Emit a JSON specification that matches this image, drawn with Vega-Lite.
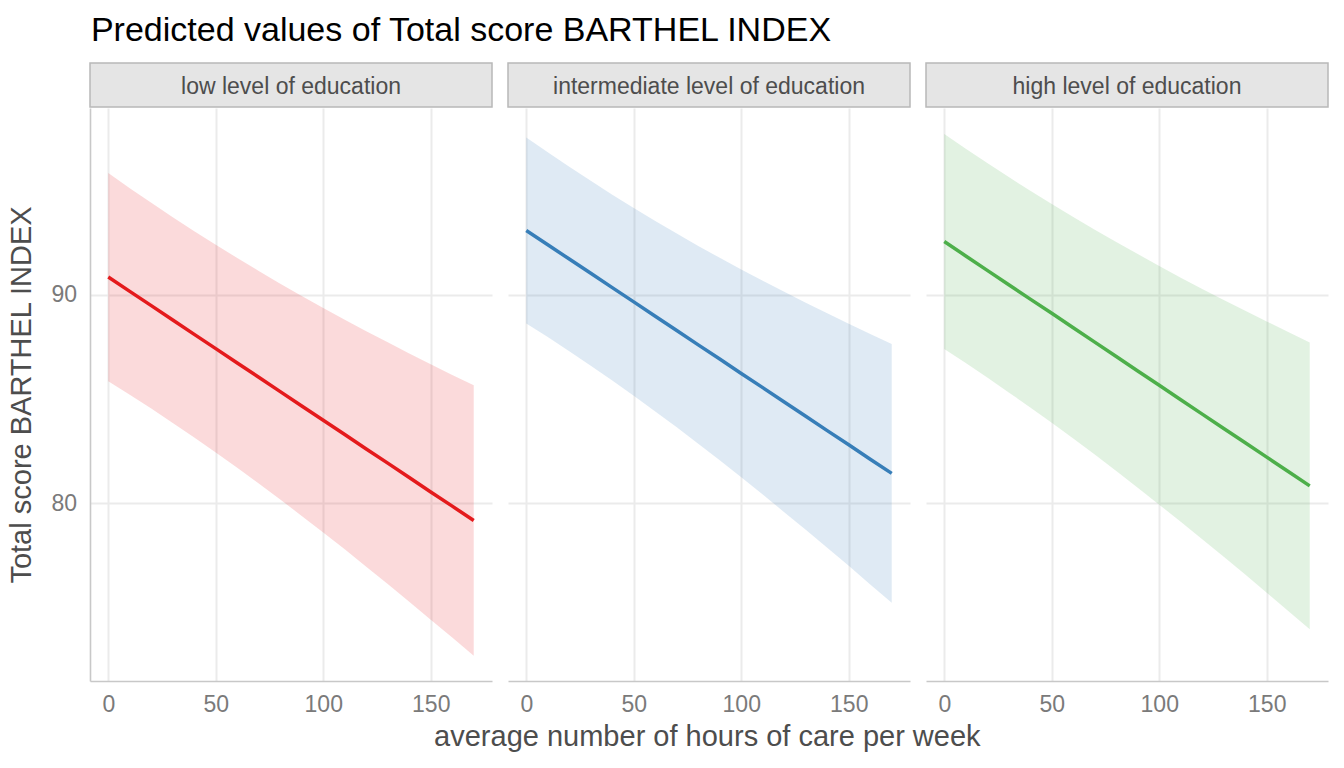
{
  "$schema": "https://vega.github.io/schema/vega-lite/v6.json",
  "background": "white",
  "padding": {"left": 7, "top": 14, "right": 10, "bottom": 10},
  "title": {"text": "Predicted values of Total score BARTHEL INDEX", "anchor": "start", "fontSize": 34, "fontWeight": "normal", "color": "black", "dx": 83, "offset": 14},
  "config": {
    "font": "Liberation Sans",
    "view": {"stroke": null},
    "axis": {
      "gridColor": "#ebebeb", "domainColor": "#c8c8c8", "domainWidth": 1.6,
      "labelColor": "#7a7a7a", "labelFontSize": 23, "titleFontSize": 29,
      "titleColor": "#4d4d4d", "titleFontWeight": "normal", "ticks": false
    }
  },
  "datasets": {
    "pred": [
      {"education": "low level of education", "hours": 0, "predicted": 90.85, "conf_low": 85.86, "conf_high": 95.84},
      {"education": "low level of education", "hours": 10, "predicted": 90.16, "conf_low": 85.21, "conf_high": 95.11},
      {"education": "low level of education", "hours": 20, "predicted": 89.48, "conf_low": 84.55, "conf_high": 94.41},
      {"education": "low level of education", "hours": 30, "predicted": 88.79, "conf_low": 83.86, "conf_high": 93.72},
      {"education": "low level of education", "hours": 40, "predicted": 88.10, "conf_low": 83.16, "conf_high": 93.04},
      {"education": "low level of education", "hours": 50, "predicted": 87.42, "conf_low": 82.44, "conf_high": 92.40},
      {"education": "low level of education", "hours": 60, "predicted": 86.73, "conf_low": 81.71, "conf_high": 91.76},
      {"education": "low level of education", "hours": 70, "predicted": 86.05, "conf_low": 80.96, "conf_high": 91.14},
      {"education": "low level of education", "hours": 80, "predicted": 85.36, "conf_low": 80.19, "conf_high": 90.53},
      {"education": "low level of education", "hours": 90, "predicted": 84.67, "conf_low": 79.40, "conf_high": 89.94},
      {"education": "low level of education", "hours": 100, "predicted": 83.99, "conf_low": 78.61, "conf_high": 89.37},
      {"education": "low level of education", "hours": 110, "predicted": 83.30, "conf_low": 77.80, "conf_high": 88.80},
      {"education": "low level of education", "hours": 120, "predicted": 82.61, "conf_low": 76.97, "conf_high": 88.25},
      {"education": "low level of education", "hours": 130, "predicted": 81.93, "conf_low": 76.14, "conf_high": 87.72},
      {"education": "low level of education", "hours": 140, "predicted": 81.24, "conf_low": 75.29, "conf_high": 87.19},
      {"education": "low level of education", "hours": 150, "predicted": 80.55, "conf_low": 74.43, "conf_high": 86.67},
      {"education": "low level of education", "hours": 160, "predicted": 79.87, "conf_low": 73.58, "conf_high": 86.16},
      {"education": "low level of education", "hours": 170, "predicted": 79.18, "conf_low": 72.70, "conf_high": 85.66},
      {"education": "intermediate level of education", "hours": 0, "predicted": 93.08, "conf_low": 88.62, "conf_high": 97.54},
      {"education": "intermediate level of education", "hours": 10, "predicted": 92.40, "conf_low": 87.97, "conf_high": 96.83},
      {"education": "intermediate level of education", "hours": 20, "predicted": 91.71, "conf_low": 87.29, "conf_high": 96.13},
      {"education": "intermediate level of education", "hours": 30, "predicted": 91.03, "conf_low": 86.60, "conf_high": 95.46},
      {"education": "intermediate level of education", "hours": 40, "predicted": 90.34, "conf_low": 85.89, "conf_high": 94.79},
      {"education": "intermediate level of education", "hours": 50, "predicted": 89.66, "conf_low": 85.16, "conf_high": 94.16},
      {"education": "intermediate level of education", "hours": 60, "predicted": 88.97, "conf_low": 84.41, "conf_high": 93.53},
      {"education": "intermediate level of education", "hours": 70, "predicted": 88.29, "conf_low": 83.65, "conf_high": 92.93},
      {"education": "intermediate level of education", "hours": 80, "predicted": 87.60, "conf_low": 82.86, "conf_high": 92.34},
      {"education": "intermediate level of education", "hours": 90, "predicted": 86.92, "conf_low": 82.07, "conf_high": 91.77},
      {"education": "intermediate level of education", "hours": 100, "predicted": 86.23, "conf_low": 81.25, "conf_high": 91.21},
      {"education": "intermediate level of education", "hours": 110, "predicted": 85.55, "conf_low": 80.43, "conf_high": 90.67},
      {"education": "intermediate level of education", "hours": 120, "predicted": 84.86, "conf_low": 79.58, "conf_high": 90.14},
      {"education": "intermediate level of education", "hours": 130, "predicted": 84.18, "conf_low": 78.74, "conf_high": 89.62},
      {"education": "intermediate level of education", "hours": 140, "predicted": 83.49, "conf_low": 77.87, "conf_high": 89.11},
      {"education": "intermediate level of education", "hours": 150, "predicted": 82.81, "conf_low": 77.01, "conf_high": 88.61},
      {"education": "intermediate level of education", "hours": 160, "predicted": 82.12, "conf_low": 76.12, "conf_high": 88.12},
      {"education": "intermediate level of education", "hours": 170, "predicted": 81.44, "conf_low": 75.24, "conf_high": 87.64},
      {"education": "high level of education", "hours": 0, "predicted": 92.55, "conf_low": 87.40, "conf_high": 97.70},
      {"education": "high level of education", "hours": 10, "predicted": 91.86, "conf_low": 86.73, "conf_high": 97.00},
      {"education": "high level of education", "hours": 20, "predicted": 91.17, "conf_low": 86.03, "conf_high": 96.31},
      {"education": "high level of education", "hours": 30, "predicted": 90.48, "conf_low": 85.32, "conf_high": 95.64},
      {"education": "high level of education", "hours": 40, "predicted": 89.79, "conf_low": 84.60, "conf_high": 94.98},
      {"education": "high level of education", "hours": 50, "predicted": 89.11, "conf_low": 83.87, "conf_high": 94.35},
      {"education": "high level of education", "hours": 60, "predicted": 88.42, "conf_low": 83.11, "conf_high": 93.73},
      {"education": "high level of education", "hours": 70, "predicted": 87.73, "conf_low": 82.34, "conf_high": 93.12},
      {"education": "high level of education", "hours": 80, "predicted": 87.04, "conf_low": 81.55, "conf_high": 92.53},
      {"education": "high level of education", "hours": 90, "predicted": 86.35, "conf_low": 80.75, "conf_high": 91.95},
      {"education": "high level of education", "hours": 100, "predicted": 85.66, "conf_low": 79.94, "conf_high": 91.38},
      {"education": "high level of education", "hours": 110, "predicted": 84.97, "conf_low": 79.12, "conf_high": 90.82},
      {"education": "high level of education", "hours": 120, "predicted": 84.28, "conf_low": 78.28, "conf_high": 90.28},
      {"education": "high level of education", "hours": 130, "predicted": 83.59, "conf_low": 77.44, "conf_high": 89.75},
      {"education": "high level of education", "hours": 140, "predicted": 82.91, "conf_low": 76.59, "conf_high": 89.23},
      {"education": "high level of education", "hours": 150, "predicted": 82.22, "conf_low": 75.72, "conf_high": 88.72},
      {"education": "high level of education", "hours": 160, "predicted": 81.53, "conf_low": 74.85, "conf_high": 88.21},
      {"education": "high level of education", "hours": 170, "predicted": 80.84, "conf_low": 73.97, "conf_high": 87.71}
    ]
  },
  "vconcat": [
    {
      "title": {"text": "average number of hours of care per week", "orient": "bottom", "anchor": "middle", "fontSize": 29, "fontWeight": "normal", "color": "#4d4d4d", "offset": 7, "dx": 39},
      "spacing": 14,
      "hconcat": [
        {
          "spacing": 0,
          "vconcat": [
            {
              "width": 402, "height": 44,
              "view": {"fill": "#e5e5e5", "stroke": "#b8b8b8", "strokeWidth": 1.5},
              "data": {"values": [{"panel": "low level of education"}]},
              "mark": {"type": "text", "fontSize": 23, "color": "#4d4d4d", "dy": 2},
              "encoding": {"text": {"field": "panel"}}
            },
            {
              "width": 402, "height": 573,
              "data": {"name": "pred"},
              "transform": [{"filter": "datum.education === 'low level of education'"}],
              "layer": [
                {
                  "mark": {"type": "area", "opacity": 0.16},
                  "encoding": {
                    "x": {"field": "hours", "type": "quantitative", "scale": {"domain": [-8.5, 178.5], "nice": false, "zero": false},
                          "axis": {"values": [0, 50, 100, 150], "gridWidth": 2, "labelPadding": 12, "title": null}},
                    "y": {"field": "conf_low", "type": "quantitative", "scale": {"domain": [71.49, 98.95], "nice": false, "zero": false},
                          "axis": {"values": [80, 90], "gridWidth": 2, "labelPadding": 13.5, "titlePadding": 14, "title": "Total score BARTHEL INDEX"}},
                    "y2": {"field": "conf_high"},
                    "color": {"field": "education", "type": "nominal", "legend": null,
                              "scale": {"domain": ["low level of education", "intermediate level of education", "high level of education"], "range": ["#e41a1c", "#377eb8", "#4daf4a"]}}
                  }
                },
                {
                  "mark": {"type": "line", "strokeWidth": 3.5},
                  "encoding": {
                    "x": {"field": "hours", "type": "quantitative",
                          "axis": {"orient": "top", "values": [25, 75, 125, 175], "gridWidth": 1.1, "labels": false, "domain": false, "title": null}},
                    "y": {"field": "predicted", "type": "quantitative",
                          "axis": {"orient": "right", "values": [75, 85, 95], "gridWidth": 1.1, "labels": false, "domain": false, "title": null}},
                    "color": {"field": "education", "type": "nominal", "legend": null}
                  }
                }
              ],
              "resolve": {"axis": {"x": "independent", "y": "independent"}}
            }
          ]
        },
        {
          "spacing": 0,
          "vconcat": [
            {
              "width": 402, "height": 44,
              "view": {"fill": "#e5e5e5", "stroke": "#b8b8b8", "strokeWidth": 1.5},
              "data": {"values": [{"panel": "intermediate level of education"}]},
              "mark": {"type": "text", "fontSize": 23, "color": "#4d4d4d", "dy": 2},
              "encoding": {"text": {"field": "panel"}}
            },
            {
              "width": 402, "height": 573,
              "data": {"name": "pred"},
              "transform": [{"filter": "datum.education === 'intermediate level of education'"}],
              "layer": [
                {
                  "mark": {"type": "area", "opacity": 0.16},
                  "encoding": {
                    "x": {"field": "hours", "type": "quantitative", "scale": {"domain": [-8.5, 178.5], "nice": false, "zero": false},
                          "axis": {"values": [0, 50, 100, 150], "gridWidth": 2, "labelPadding": 12, "title": null}},
                    "y": {"field": "conf_low", "type": "quantitative", "scale": {"domain": [71.49, 98.95], "nice": false, "zero": false},
                          "axis": {"values": [80, 90], "gridWidth": 2, "labels": false, "domain": false, "title": null}},
                    "y2": {"field": "conf_high"},
                    "color": {"field": "education", "type": "nominal", "legend": null,
                              "scale": {"domain": ["low level of education", "intermediate level of education", "high level of education"], "range": ["#e41a1c", "#377eb8", "#4daf4a"]}}
                  }
                },
                {
                  "mark": {"type": "line", "strokeWidth": 3.5},
                  "encoding": {
                    "x": {"field": "hours", "type": "quantitative",
                          "axis": {"orient": "top", "values": [25, 75, 125, 175], "gridWidth": 1.1, "labels": false, "domain": false, "title": null}},
                    "y": {"field": "predicted", "type": "quantitative",
                          "axis": {"orient": "right", "values": [75, 85, 95], "gridWidth": 1.1, "labels": false, "domain": false, "title": null}},
                    "color": {"field": "education", "type": "nominal", "legend": null}
                  }
                }
              ],
              "resolve": {"axis": {"x": "independent", "y": "independent"}}
            }
          ]
        },
        {
          "spacing": 0,
          "vconcat": [
            {
              "width": 402, "height": 44,
              "view": {"fill": "#e5e5e5", "stroke": "#b8b8b8", "strokeWidth": 1.5},
              "data": {"values": [{"panel": "high level of education"}]},
              "mark": {"type": "text", "fontSize": 23, "color": "#4d4d4d", "dy": 2},
              "encoding": {"text": {"field": "panel"}}
            },
            {
              "width": 402, "height": 573,
              "data": {"name": "pred"},
              "transform": [{"filter": "datum.education === 'high level of education'"}],
              "layer": [
                {
                  "mark": {"type": "area", "opacity": 0.16},
                  "encoding": {
                    "x": {"field": "hours", "type": "quantitative", "scale": {"domain": [-8.5, 178.5], "nice": false, "zero": false},
                          "axis": {"values": [0, 50, 100, 150], "gridWidth": 2, "labelPadding": 12, "title": null}},
                    "y": {"field": "conf_low", "type": "quantitative", "scale": {"domain": [71.49, 98.95], "nice": false, "zero": false},
                          "axis": {"values": [80, 90], "gridWidth": 2, "labels": false, "domain": false, "title": null}},
                    "y2": {"field": "conf_high"},
                    "color": {"field": "education", "type": "nominal", "legend": null,
                              "scale": {"domain": ["low level of education", "intermediate level of education", "high level of education"], "range": ["#e41a1c", "#377eb8", "#4daf4a"]}}
                  }
                },
                {
                  "mark": {"type": "line", "strokeWidth": 3.5},
                  "encoding": {
                    "x": {"field": "hours", "type": "quantitative",
                          "axis": {"orient": "top", "values": [25, 75, 125, 175], "gridWidth": 1.1, "labels": false, "domain": false, "title": null}},
                    "y": {"field": "predicted", "type": "quantitative",
                          "axis": {"orient": "right", "values": [75, 85, 95], "gridWidth": 1.1, "labels": false, "domain": false, "title": null}},
                    "color": {"field": "education", "type": "nominal", "legend": null}
                  }
                }
              ],
              "resolve": {"axis": {"x": "independent", "y": "independent"}}
            }
          ]
        }
      ]
    }
  ]
}
